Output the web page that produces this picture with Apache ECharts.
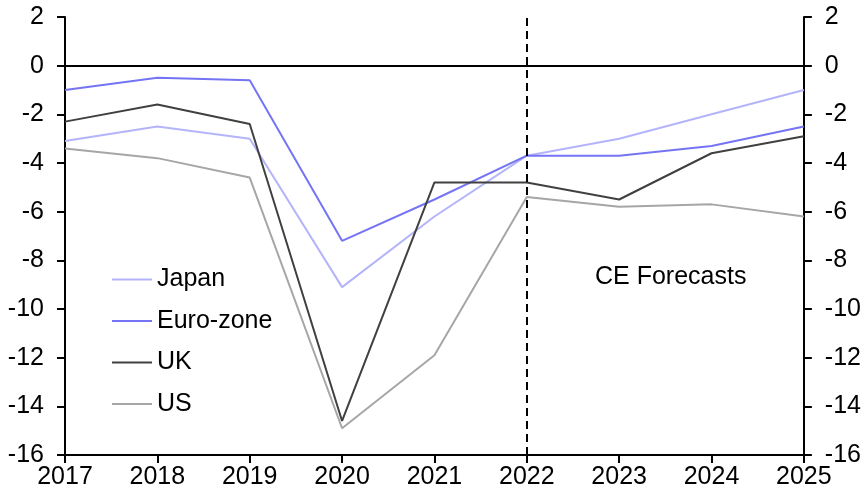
<!DOCTYPE html>
<html><head><meta charset="utf-8">
<script src="https://cdn.jsdelivr.net/npm/echarts@6/dist/echarts.min.js"></script>
<style>html,body{margin:0;padding:0;background:#fff}#c{width:864px;height:498px}</style>
</head><body><div id="c"></div>
<script>
const years = ['2017','2018','2019','2020','2021','2022','2023','2024','2025'];
const japan = [-3.1,-2.5,-3.0,-9.1,-6.2,-3.7,-3.0,-2.0,-1.0];
const euro = [-1.0,-0.5,-0.6,-7.2,-5.5,-3.7,-3.7,-3.3,-2.5];
const uk = [-2.3,-1.6,-2.4,-14.6,-4.8,-4.8,-5.5,-3.6,-2.9];
const us = [-3.4,-3.8,-4.6,-14.9,-11.9,-5.4,-5.8,-5.7,-6.2];
const forecastStart = '2022';
const annotation = 'CE Forecasts';

const FONT = '"Liberation Sans", Arial, sans-serif';
const FS = 25;
const chart = echarts.init(document.getElementById('c'), null, {renderer:'canvas'});
function yAx(pos){
  return {type:'value', position:pos, min:-16, max:2, interval:2,
    axisLine:{show:true, lineStyle:{color:'#000', width:2}},
    axisTick:{show:true, length:8, lineStyle:{color:'#000', width:2}},
    axisLabel:{color:'#000', fontSize:FS, fontFamily:FONT, margin:21},
    splitLine:{show:false}};
}
function mk(name, data, color, extra){
  const s = {name, type:'line', data, symbol:'none', smooth:false,
    lineStyle:{color, width:2}, itemStyle:{color}, z:3};
  return Object.assign(s, extra||{});
}
chart.setOption({
  animation:false,
  grid:{left:65, right:60, top:17, bottom:43},
  xAxis:{type:'category', data:years, boundaryGap:false,
    axisLine:{onZero:false, lineStyle:{color:'#000', width:2}},
    axisTick:{show:true, length:8, alignWithLabel:true, lineStyle:{color:'#000', width:2}},
    axisLabel:{color:'#000', fontSize:FS, fontFamily:FONT, margin:10, interval:0},
    splitLine:{show:false}},
  yAxis:[yAx('left'), yAx('right')],
  legend:{orient:'vertical', left:112, top:267, padding:0, icon:'rect', itemWidth:40, itemHeight:2, itemGap:16.5,
    textStyle:{color:'#000', fontSize:FS, fontFamily:FONT, lineHeight:25},
    data:['Japan','Euro-zone','UK','US']},
  graphic:[{type:'text', left:595, top:265,
    style:{text:annotation, fill:'#000', font:FS+'px "Liberation Sans", Arial, sans-serif'}}],
  series:[
    mk('Japan', japan, '#b4b4fb'),
    mk('Euro-zone', euro, '#7474f4', {markLine:{silent:true, symbol:'none', label:{show:false},
      data:[{yAxis:0, lineStyle:{color:'#000', width:2, type:'solid'}},
            {xAxis:forecastStart, lineStyle:{color:'#000', width:2, type:[8,5]}}]}}),
    mk('UK', uk, '#404040'),
    mk('US', us, '#a6a6a6')
  ]
});
</script></body></html>
